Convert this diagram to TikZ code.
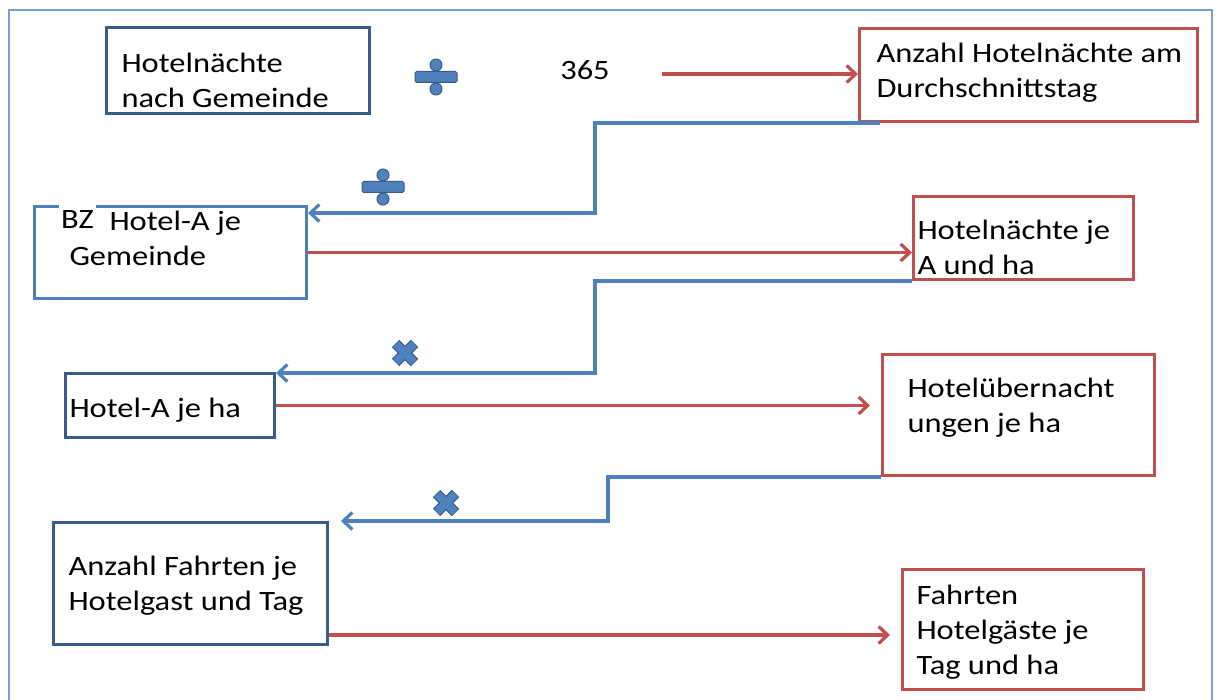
\documentclass[tikz,border=0pt]{standalone}
\usepackage{fontspec}
\setmainfont{Carlito}[FakeStretch=1.16]
\usepackage{tikz}
\usetikzlibrary{arrows.meta}

\definecolor{dkblue}{HTML}{385D8A}
\definecolor{ltblue}{HTML}{4F81BD}
\definecolor{myred}{HTML}{C0504D}
\definecolor{frameblue}{HTML}{7A9FD4}

\newcommand{\cell}[5]{\parbox[c][#2pt][t]{#1pt}{\raggedright\leftskip=#4pt\relax\rule{0pt}{#3pt}#5}}

\begin{document}
\begin{tikzpicture}[x=1pt, y=-1pt,
    txt/.style = {font=\fontsize{28}{35}\selectfont},
    box/.style = {txt, draw, line width=3pt, inner sep=0pt, anchor=north west},
    blk/.style = {box, draw=dkblue},
    lt/.style = {box, draw=ltblue},
    rd/.style = {box, draw=myred},
    redarr/.style = {myred, line width=3.2pt, -{Straight Barb[length=9pt,width=17pt]}},
    bluearr/.style = {ltblue, line width=3.2pt, -{Straight Barb[length=9pt,width=17pt]}},
    divsign/.pic = {
        \filldraw[fill=ltblue, draw=dkblue, line width=1pt, rounded corners=1.5pt] (-21,-5.5) rectangle (21,5.5);
        \filldraw[fill=ltblue, draw=dkblue, line width=1pt] (0,-12) circle (6pt) (0,12) circle (6pt);
        \fill[ltblue] (-20,-4.5) rectangle (20,4.5);},
    mulsign/.pic = {
        \draw[dkblue, line width=10.5pt] (-9.5,-9.5) -- (9.5,9.5) (-9.5,9.5) -- (9.5,-9.5);
        \draw[ltblue, line width=8pt] (-9,-9) -- (9,9) (-9,9) -- (9,-9);}]
    \useasboundingbox (0,0) rectangle (1218,700);
    \draw[frameblue, line width=1.8pt] (9,705) -- (9,10) -- (1212,10) -- (1212,705);

    \node[blk](1) at (105,26) {\cell{263}{86}{45}{15}{Hotelnächte\\nach Gemeinde}};
    \node[txt](tage) at (585,70) {365};
    \node[rd](2) at (858,27) {\cell{338}{93}{34}{17}{Anzahl Hotelnächte am\\Durchschnittstag}};
    \node[lt](3) at (33,205) {\cell{272}{92}{24}{35}{\hspace*{40pt}Hotel-A je\\Gemeinde}};
    \node[txt, fill=white, anchor=base west, inner xsep=2pt, inner ysep=0pt,
        text height=27pt, text depth=4pt](bz) at (59,229) {BZ};
    \node[rd](4) at (912,195) {\cell{220}{83}{43}{4}{Hotelnächte je\\A und ha}};
    \node[blk](5) at (64,372) {\cell{209}{64}{44}{4}{Hotel-A je ha}};
    \node[rd](6) at (881,353) {\cell{272}{121}{43}{25}{Hotelübernacht\\ungen je ha}};
    \node[blk](7) at (52,521) {\cell{274}{122}{53}{15}{Anzahl Fahrten je\\Hotelgast und Tag}};
    \node[rd](8) at (901,568) {\cell{241}{120}{35}{14}{Fahrten\\Hotelgäste je\\Tag und ha}};

    \pic at (436,77) {divsign};
    \pic at (383,187) {divsign};
    \pic at (405,353) {mulsign};
    \pic at (446,503) {mulsign};

    \coordinate (a1) at (662,74);
    \coordinate (a7) at ([yshift=11pt]7.south east);
    \coordinate (b7) at (a7 -| 8.west);
    \coordinate (b5) at (5.east -| 6.west);

    \draw[redarr] (a1) -- (a1 -| 2.west);
    \draw[redarr] (3.east) -- (3.east -| 4.west);
    \draw[redarr] (5.east) -- ([xshift=-11pt]b5);
    \draw[redarr] (a7) -- ([xshift=-11pt]b7);

    \draw[bluearr] ([xshift=22pt]2.south west) -- ++(-285,0) |- ([yshift=-8pt]3.north east);
    \draw[bluearr] (4.south west) -- ++(-317,0) |- ([yshift=-1pt]5.north east);
    \draw[bluearr] (6.south west) -- ++(-273,0) |- ([xshift=12pt]7.north east);
\end{tikzpicture}
\end{document}
